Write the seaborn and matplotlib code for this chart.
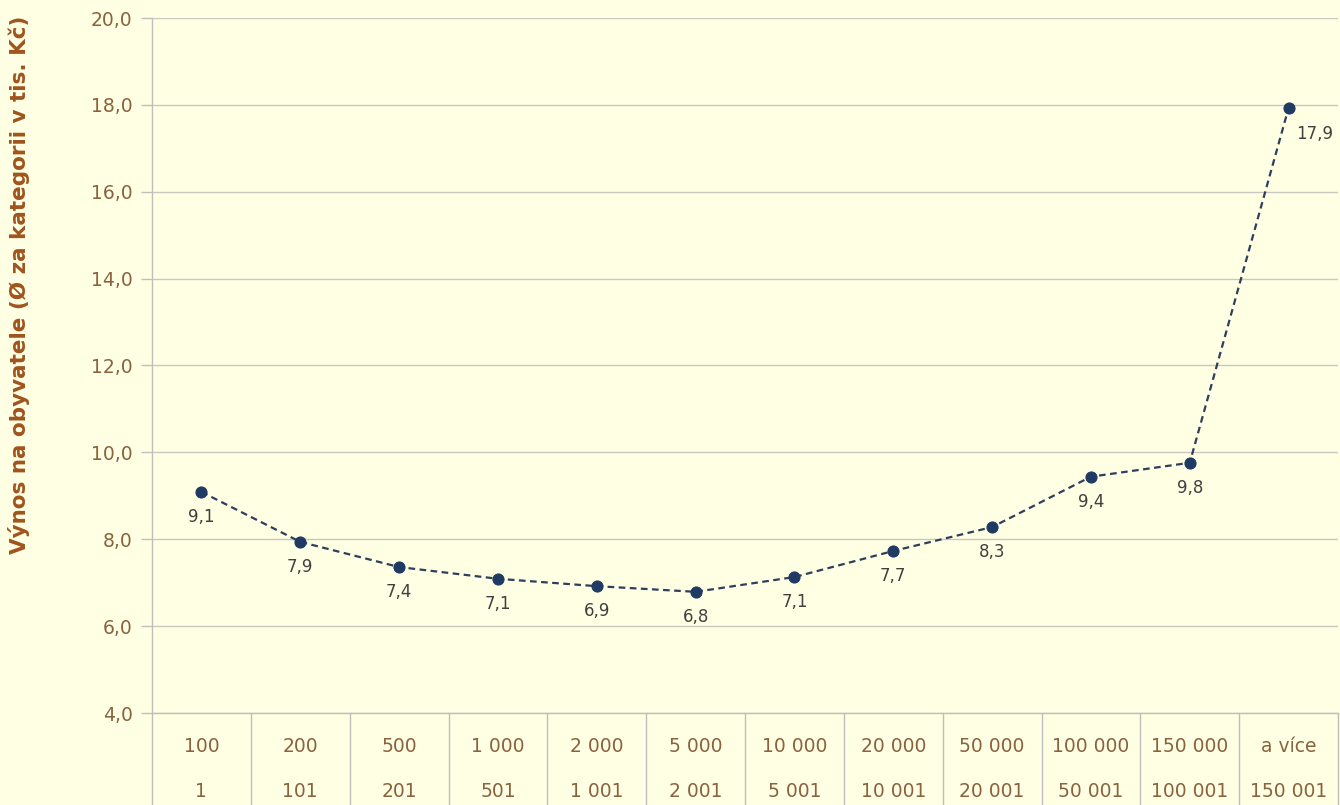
import matplotlib
matplotlib.use("Agg")
import matplotlib.pyplot as plt
import matplotlib.transforms as mtransforms
import seaborn as sns
import pandas as pd

horni = ["100", "200", "500", "1 000", "2 000", "5 000", "10 000", "20 000",
         "50 000", "100 000", "150 000", "a více"]
dolni = ["1", "101", "201", "501", "1 001", "2 001", "5 001", "10 001",
         "20 001", "50 001", "100 001", "150 001"]
vynos = [9.09, 7.94, 7.36, 7.09, 6.92, 6.79, 7.13, 7.73, 8.28, 9.44, 9.76, 17.93]

df = pd.DataFrame({"kat": range(len(vynos)), "vynos": vynos})

bg = "#FFFFE3"
brown = "#8A6240"
sns.set_theme(style="white")
plt.rcParams["font.family"] = ["DejaVu Sans"]

fig = plt.figure(figsize=(13.4, 8.05), dpi=100, facecolor=bg)
ax = fig.add_axes([152 / 1340, 92 / 805, 1186 / 1340, 695 / 805])
ax.set_facecolor(bg)

sns.lineplot(data=df, x="kat", y="vynos", ax=ax, color="#2E3E5C",
             linestyle=(0, (3, 2)), linewidth=1.6, marker="o",
             markersize=8, markerfacecolor="#1F3A63", markeredgecolor="#1F3A63")

for i, v in enumerate(vynos):
    txt = f"{v:.1f}".replace(".", ",")
    if i == len(vynos) - 1:
        ax.annotate(txt, (i, v), xytext=(19, -19), textcoords="offset points",
                    ha="center", va="center", fontsize=12, color="#404040")
    else:
        ax.annotate(txt, (i, v), xytext=(0, -18), textcoords="offset points",
                    ha="center", va="center", fontsize=12, color="#404040")

ax.set_xlim(-0.5, len(vynos) - 0.5)
ax.set_ylim(4, 20)
ax.set_yticks(range(4, 21, 2))
ax.set_yticklabels([f"{t:.1f}".replace(".", ",") for t in range(4, 21, 2)],
                   fontsize=13.5, color=brown)
ax.tick_params(axis="y", length=8, width=1, color="#BEBEBE", pad=6, left=True)
ax.grid(axis="y", color="#C8C8C0", linewidth=1)
ax.set_xticks([])
ax.set_xlabel("")
ax.set_ylabel("Výnos na obyvatele (Ø za kategorii v tis. Kč)", fontsize=15.5,
              color="#A0541E", fontweight="bold")
ax.yaxis.set_label_coords(-0.103, 0.616)

for s in ["top", "right"]:
    ax.spines[s].set_visible(False)
for s in ["left", "bottom"]:
    ax.spines[s].set_color("#BEBEBE")
    ax.spines[s].set_linewidth(1)

# table of category labels below the axes
trans = mtransforms.blended_transform_factory(ax.transData, ax.transAxes)
low = -92 / 695
for b in range(len(vynos) + 1):
    ax.plot([b - 0.5, b - 0.5], [0, low], transform=trans, clip_on=False,
            color="#BEBEBE", linewidth=1)
for i in range(len(vynos)):
    ax.text(i, -33 / 695, horni[i], transform=trans, ha="center", va="center",
            fontsize=13.5, color=brown)
    ax.text(i, -78 / 695, dolni[i], transform=trans, ha="center", va="center",
            fontsize=13.5, color=brown)

fig.savefig("out.png", dpi=100, facecolor=bg)
